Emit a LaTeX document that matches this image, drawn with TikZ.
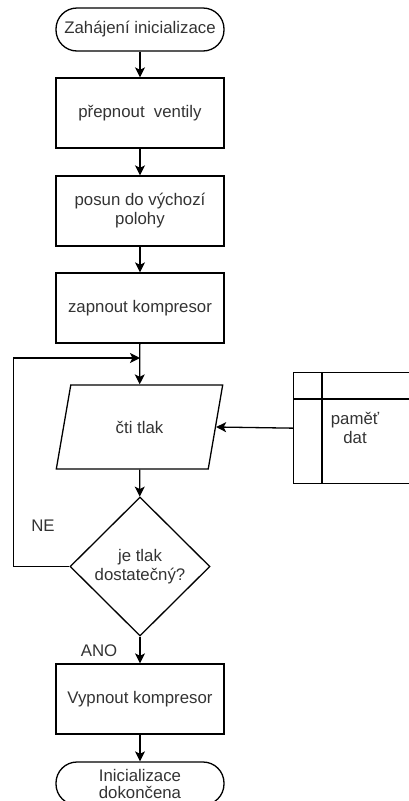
\documentclass[tikz,border=0pt]{standalone}
\usepackage{fontspec}
\setmainfont{Liberation Sans}
\usetikzlibrary{shapes.geometric,arrows.meta}
\begin{document}
\begin{tikzpicture}[x=1pt,y=-1pt,
  every node/.style={font=\fontsize{16.8}{19}\selectfont, text=black!80, align=center},
  proc/.style={draw=black, line width=1.3pt, rectangle, minimum width=168pt, minimum height=70pt, inner sep=2pt},
  term/.style={draw=black, line width=1.3pt, rectangle, rounded corners=21pt, minimum width=168pt, minimum height=43pt, inner sep=1pt},
  io/.style={draw=black, line width=1.3pt, trapezium, trapezium left angle=68, trapezium right angle=112, trapezium stretches=true, minimum width=167pt, minimum height=84pt, inner sep=0pt},
  dec/.style={draw=black, line width=1.3pt, diamond, minimum width=140pt, minimum height=139pt, inner sep=0pt},
  lbl/.style={inner sep=1pt},
  arr/.style={draw=black, line width=1.3pt, -{Stealth[length=10pt,width=10pt,inset=2.5pt]}},
  ln/.style={draw=black, line width=1.3pt}
]
\useasboundingbox (0,0) rectangle (409,801);
\clip (0,0) rectangle (409,801);
\node[term] (start) at (140,29.5) {Zahájení inicializace};
\node[proc] (b1) at (140,113) {přepnout\ \ ventily};
\node[proc] (b2) at (140,211) {posun do výchozí\\polohy};
\node[proc] (b3) at (140,308) {zapnout kompresor};
\node[io] (para) at (139.5,427) {čti tlak};
\node[dec] (dia) at (140,566.5) {je tlak\\dostatečný?};
\node[proc] (b4) at (140,699) {Vypnout kompresor};
\node[term, font=\fontsize{16.8}{17}\selectfont] (end) at (140,783.5) {Inicializace\\dokončena};
\node[draw=black, line width=1.3pt, rectangle, minimum width=160pt, minimum height=111pt, anchor=north west] (mem) at (293,372) {};
\draw[ln] (mem.north west) ++(29,0) -- ++(0,111);
\draw[ln] (mem.north west) ++(0,27) -- ++(160,0);
\node[lbl] (memtxt) at (355,428) {paměť\\dat};
\coordinate (j) at (140,358);
\draw[arr] (start) -- (b1);
\draw[arr] (b1) -- (b2);
\draw[arr] (b2) -- (b3);
\draw[arr] (b3) -- (para);
\draw[arr] (para) -- (dia);
\draw[arr] (dia) -- (b4);
\draw[arr] (b4) -- (end);
\draw[arr] (mem.west) -- (para.east);
\draw[arr] (dia.west) -- ++(-56,0) |- (j);
\node[lbl] (ne) at (43,526) {NE};
\node[lbl, fill=white] (ano) at (99,651) {ANO};
\end{tikzpicture}
\end{document}
